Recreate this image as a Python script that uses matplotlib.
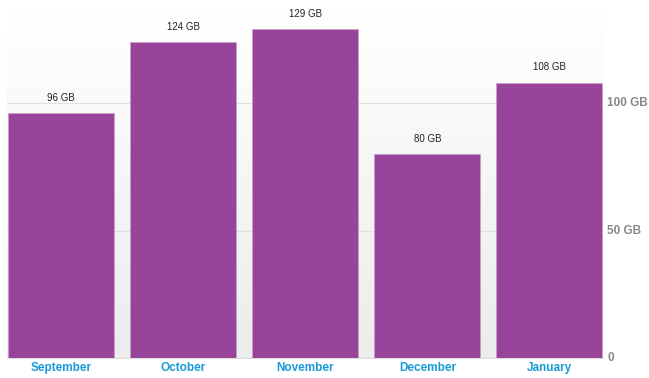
import matplotlib.pyplot as plt
import numpy as np

months = ["September", "October", "November", "December", "January"]
usage_gb = [96, 124, 129, 80, 108]
ytick_vals = [0, 50, 100]
ytick_labels = ["0", "50 GB", "100 GB"]

plt.rcParams['font.family'] = ['Liberation Sans', 'DejaVu Sans']

fig = plt.figure(figsize=(6.49, 3.78), dpi=100)
ax = fig.add_axes([7 / 649, 20 / 378, 596 / 649, 348 / 378])

# background gradient, white at top to light grey at bottom
grad = np.linspace(0, 1, 256).reshape(-1, 1)
ax.imshow(grad, extent=[0, 1, 0, 1], transform=ax.transAxes, aspect="auto",
          cmap=plt.matplotlib.colors.LinearSegmentedColormap.from_list("bg", ["#ffffff", "#ececec"]),
          zorder=0)

x = np.arange(len(months))
ax.bar(x, usage_gb, width=0.87, color="#98449a", edgecolor="#c9a0ca", linewidth=0.5, zorder=3)

for i, v in enumerate(usage_gb):
    ax.text(i, v + 4, "%d GB" % v, ha="center", va="bottom", fontsize=7, color="#222222", zorder=4)

ax.set_xlim(-0.445, 4.44)
ax.set_ylim(0, 136.5)

ax.yaxis.tick_right()
ax.set_yticks(ytick_vals)
ax.set_yticklabels(ytick_labels, fontsize=8.5, fontweight="bold", color="#888888")
for lbl in ax.get_yticklabels():
    lbl.set_verticalalignment("center")
ax.tick_params(axis="y", length=0, pad=3)

ax.set_xticks(x)
ax.set_xticklabels(months, fontsize=8.5, fontweight="bold", color="#1a9ad6",
                   family=['Liberation Sans Narrow', 'Liberation Sans', 'DejaVu Sans'])
ax.tick_params(axis="x", length=0, pad=3)

ax.grid(axis="y", color="#e0e0e0", linewidth=0.8, zorder=1)
ax.set_axisbelow(True)
for s in ["top", "left", "right"]:
    ax.spines[s].set_visible(False)
ax.spines["bottom"].set_color("#dddddd")

fig.savefig("out.png", dpi=100)
